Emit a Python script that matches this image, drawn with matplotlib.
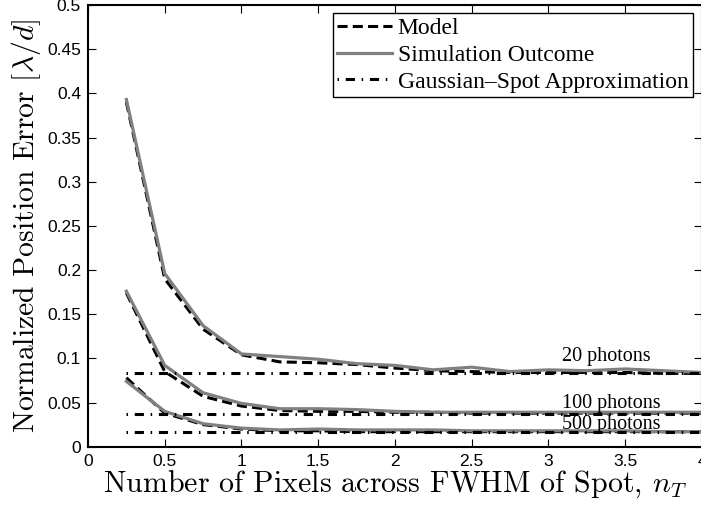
import numpy as np
import matplotlib.pyplot as plt
from matplotlib.ticker import FormatStrFormatter

plt.rcParams['mathtext.fontset'] = 'cm'

# pixels across FWHM
n_t = [0.25, 0.5, 0.75, 1.0, 1.25, 1.5, 1.75, 2.0, 2.25, 2.5, 2.75, 3.0, 3.25, 3.5, 3.75, 4.0]

# simulation outcome
sim_20 = [0.393, 0.196, 0.137, 0.105, 0.102, 0.099, 0.094, 0.092, 0.087, 0.090, 0.085, 0.087, 0.086, 0.088, 0.086, 0.084]
sim_100 = [0.176, 0.092, 0.061, 0.049, 0.043, 0.043, 0.042, 0.040, 0.039, 0.039, 0.039, 0.039, 0.039, 0.039, 0.039, 0.039]
sim_500 = [0.074, 0.040, 0.026, 0.021, 0.019, 0.020, 0.019, 0.019, 0.019, 0.018, 0.018, 0.018, 0.018, 0.018, 0.017, 0.017]

# model
model_20 = [0.390, 0.190, 0.133, 0.104, 0.096, 0.095, 0.093, 0.089, 0.086, 0.085, 0.084, 0.084, 0.084, 0.084, 0.083, 0.083]
model_100 = [0.174, 0.085, 0.057, 0.046, 0.041, 0.040, 0.040, 0.039, 0.039, 0.038, 0.038, 0.038, 0.038, 0.038, 0.038, 0.038]
model_500 = [0.078, 0.038, 0.025, 0.020, 0.018, 0.018, 0.017, 0.017, 0.017, 0.017, 0.017, 0.017, 0.017, 0.017, 0.017, 0.017]

# gaussian-spot approximation (constant)
gauss = [0.083, 0.0375, 0.017]
photons = ['20 photons', '100 photons', '500 photons']
label_y = [0.0974, 0.0434, 0.0197]

fig = plt.figure(figsize=(7.01, 5.08), dpi=100)
ax = fig.add_axes([88 / 701, 1 - 446.7 / 508, 614 / 701, 441.7 / 508])

sims = [sim_20, sim_100, sim_500]
models = [model_20, model_100, model_500]
for i in range(3):
    ax.plot(n_t, models[i], color='black', linestyle=(0, (3.3, 1.7)), linewidth=2.2,
            label='Model' if i == 0 else None, zorder=2)
for i in range(3):
    ax.plot(n_t, sims[i], color='#808080', linewidth=2.3,
            label='Simulation Outcome' if i == 0 else None, zorder=3)
for i in range(3):
    ax.plot([n_t[0], n_t[-1]], [gauss[i], gauss[i]], color='black',
            linestyle=(0, (0.5, 2.2, 3.0, 2.2)), linewidth=2.2,
            label='Gaussian\u2013Spot Approximation' if i == 0 else None, zorder=4)

for txt, yv in zip(photons, label_y):
    ax.text(3.09, yv, txt, fontsize=14.5, family='Liberation Serif', va='baseline', zorder=5)

ax.set_xlim(0, 4)
ax.set_ylim(0, 0.5)
ax.set_xticks(np.arange(0, 4.01, 0.5))
ax.set_yticks(np.arange(0, 0.501, 0.05))
ax.xaxis.set_major_formatter(FormatStrFormatter('%g'))
ax.yaxis.set_major_formatter(FormatStrFormatter('%g'))
ax.tick_params(direction='in', length=6, width=0.8, top=True, right=True, labelsize=12.5, pad=5)
for lab in ax.get_xticklabels() + ax.get_yticklabels():
    lab.set_family('Liberation Sans')
for s in ax.spines.values():
    s.set_linewidth(1.5)

ax.set_xlabel('Number of Pixels across FWHM of Spot, $n_T$', family='cmr10', fontsize=21.6, labelpad=0)
ax.set_ylabel('Normalized Position Error $[\\lambda/d]$', family='cmr10', fontsize=21.3, labelpad=3)

leg = ax.legend(loc='upper right', prop={'family': 'Liberation Serif', 'size': 17},
                fancybox=False, framealpha=1, edgecolor='black', borderpad=0.2,
                labelspacing=0.22, handlelength=2.3, handletextpad=0.25, borderaxespad=0)
leg.get_frame().set_linewidth(1.0)
leg.set_bbox_to_anchor((693 / 701, 1 - 13 / 508), transform=fig.transFigure)

fig.savefig('out.png', dpi=100)
